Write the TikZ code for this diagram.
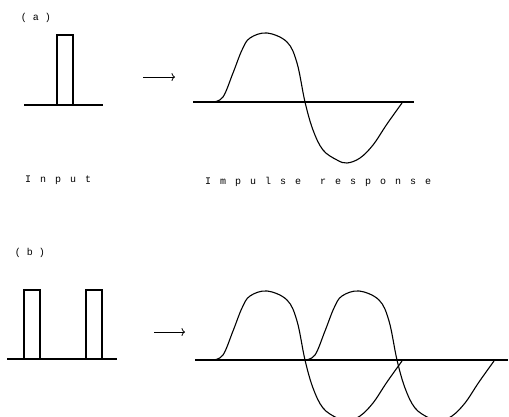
\documentclass[tikz,border=0pt]{standalone}
\usepackage{fontspec}
\usetikzlibrary{arrows.meta}
\newfontfamily\plotfont{Liberation Mono}
\newfontfamily\plotspaced[LetterSpace=90]{Liberation Mono}
\newcommand{\plotsize}{\fontsize{10}{12}\selectfont}

\tikzset{
  pics/resp/.style={code={
    \draw[wave] plot coordinates {(0,0) (10,-5) (20,-29) (29,-52) (37,-64) (54,-69)
      (74,-60) (84,-39) (92,0) (100,28) (110,48) (124,58) (134,61) (147,56)
      (160,43) (174,22) (189,1)};
  }}
}

\begin{document}
\begin{tikzpicture}[
    x=1pt, y=-1pt,
    base/.style={line width=1.1pt},
    pulse/.style={draw, line width=1.1pt},
    arr/.style={-{To[length=3.5pt, width=8pt]}, line width=0.8pt},
    wave/.style={line width=1.1pt, smooth, tension=0.6},
    lbl/.style={font=\plotsize\plotfont, inner sep=0pt},
    captxt/.style={font=\plotsize\plotspaced, inner sep=0pt, anchor=west}
  ]
  \useasboundingbox (0,0) rectangle (509,416);

  % (a) single pulse
  \node[lbl] (labA) at (36,18) {( a )};
  \draw[base] (24,105) -- (103,105);
  \draw[pulse] (57,105) -- (57,35) -- (73,35) -- (73,105);
  \coordinate (arrA-s) at (143,77);
  \coordinate (arrA-e) at (175,77);
  \draw[arr] (arrA-s) -- (arrA-e);
  \draw[base] (193,102) -- (414,102);
  \pic at (213,102) {resp};
  \node[captxt] (inp) at (25,180) {Input};
  \node[captxt] (imp) at (205,182) {Impulse\hspace{4pt} response};

  % (b) two pulses
  \node[lbl] (labB) at (30,253) {( b )};
  \draw[base] (7,359) -- (117,359);
  \draw[pulse] (24,359) -- (24,290) -- (40,290) -- (40,359);
  \draw[pulse] (86,359) -- (86,290) -- (102,290) -- (102,359);
  \coordinate (arrB-s) at (154,332);
  \coordinate (arrB-e) at (185,332);
  \draw[arr] (arrB-s) -- (arrB-e);
  \draw[base] (195,360) -- (508,360);
  \pic at (213,360) {resp};
  \pic at (305,360) {resp};
\end{tikzpicture}
\end{document}
